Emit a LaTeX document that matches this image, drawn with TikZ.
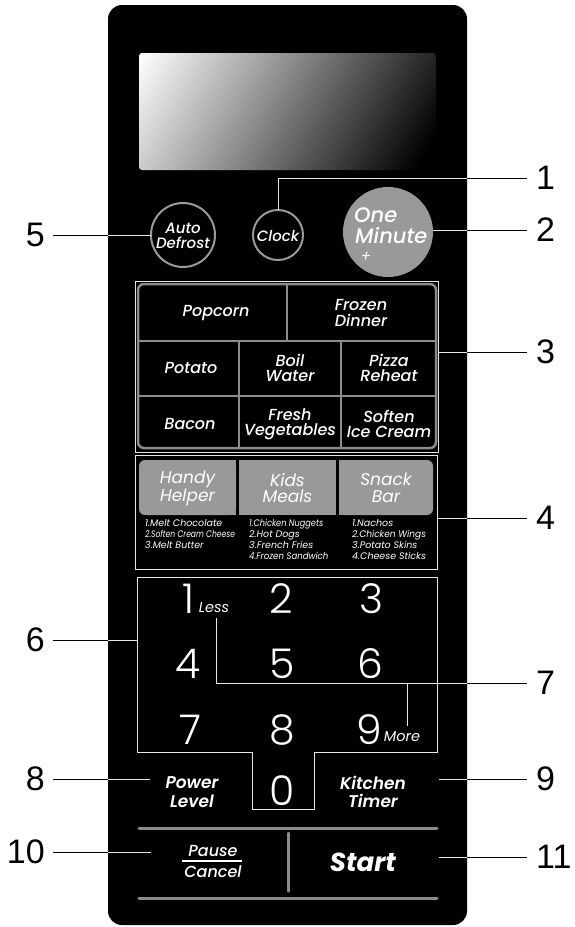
\documentclass[tikz,border=0pt]{standalone}
\usepackage{fontspec}
\setmainfont{Poppins}
\newfontfamily\medfont{Poppins Medium}
\newfontfamily\semifont{Poppins SemiBold}
\newfontfamily\digitfont{Poppins Light}
\newfontfamily\labfont{Liberation Sans}
\usetikzlibrary{calc}
\definecolor{btngray}{HTML}{999999}
\definecolor{linegray}{HTML}{8C8C8C}
\definecolor{leadwhite}{HTML}{E6E6E6}
\tikzset{
  lbl/.style={font=\labfont\fontsize{34}{34}\selectfont, text=black, inner ysep=0pt},
  lblR/.style={lbl, anchor=west, inner xsep=9pt},
  lblL/.style={lbl, anchor=east, inner xsep=8pt},
  ldr/.style={black, line width=0.8pt},
  ldrw/.style={leadwhite, line width=0.9pt},
  thinframe/.style={draw=leadwhite, line width=0.8pt},
  gridline/.style={draw=linegray, line width=2.5pt},
  barline/.style={draw=linegray, line width=3pt, line cap=round},
  celltext/.style={text=white, font=\medfont\itshape\fontsize{16}{15.5}\selectfont, align=center, inner sep=0pt},
  btntext/.style={text=white, font=\itshape\fontsize{17}{16.5}\selectfont, align=center, inner sep=0pt},
  listtext/.style={text=white, font=\itshape\fontsize{9.5}{11}\selectfont, align=left, inner sep=0pt, anchor=north west},
  digit/.style={text=white, font=\digitfont\fontsize{41}{41}\selectfont, inner sep=0pt},
  smallit/.style={text=white, font=\itshape\fontsize{14.5}{14.5}\selectfont, inner sep=0pt},
  bolditext/.style={text=white, font=\semifont\itshape\fontsize{17}{18.5}\selectfont, align=center, inner sep=0pt},
  roundbtn/.style={draw=btngray, line width=2pt, fill=black},
}
\newcommand\leadr[1]{%
  \draw[ldr] #1;
  \begin{scope}
    \clip[rounded corners=14] (108,5) rectangle (467,925);
    \draw[ldrw] #1;
  \end{scope}}
\begin{document}
\begin{tikzpicture}[x=1pt,y=-1pt]
\useasboundingbox (0,0) rectangle (575,927);
% panel
\fill[black, rounded corners=14] (108,5) rectangle (467,925);
% display: diagonal gradient built from strips
\begin{scope}
  \clip[rounded corners=3] (139,53) rectangle (436,170);
  \foreach \i in {0,...,74} {
    \pgfmathsetmacro\u{139+5*\i}
    \pgfmathsetmacro\p{min(100,max(0,(\u-139)/345*100))}
    \fill[black!\p!white] (\u,53) -- (\u+5.6,53) -- (\u+5.6-70,170) -- (\u-70,170) -- cycle;
  }
\end{scope}
% top buttons
\draw[roundbtn] (183,235) circle[radius=32];
\node[celltext, font=\medfont\itshape\fontsize{15}{15}\selectfont] (autodef) at (183,236) {Auto\\Defrost};
\draw[roundbtn] (278,235) circle[radius=25];
\node[celltext, font=\medfont\itshape\fontsize{15}{15}\selectfont] (clock) at (278,236) {Clock};
\fill[btngray] (388,232) circle[radius=45];
\node[text=white, font=\medfont\itshape\fontsize{21}{21}\selectfont, inner sep=0pt, anchor=base west] (one) at (354,222) {One};
\node[text=white, font=\medfont\itshape\fontsize{21}{21}\selectfont, inner sep=0pt, anchor=base west] (minute) at (355,243) {Minute};
\node[text=white, font=\itshape\fontsize{15}{15}\selectfont, inner sep=0pt] (plus) at (366,257) {+};
\coordinate (autoW) at (151,235);
\coordinate (clockN) at (278,210);
\coordinate (oneE) at (433,230);
% grid (3)
\draw[thinframe] (135,281) rectangle (438,452);
\draw[gridline, rounded corners=6] (138,284) rectangle (436,448);
\draw[gridline] (138,341) -- (436,341);
\draw[gridline] (138,396) -- (436,396);
\draw[gridline] (287,284) -- (287,341);
\draw[gridline] (239,341) -- (239,448);
\draw[gridline] (341,341) -- (341,448);
\node[celltext] (popcorn) at (216,313) {Popcorn};
\node[celltext] (frozen) at (361,313) {Frozen\\Dinner};
\node[celltext] (potato) at (191,368) {Potato};
\node[celltext] (boil) at (290,368) {Boil\\Water};
\node[celltext] (pizza) at (389,368) {Pizza\\Reheat};
\node[celltext] (bacon) at (190,424) {Bacon};
\node[celltext] (fresh) at (290,424) {Fresh\\Vegetables};
\node[celltext] (soften) at (389,424) {Soften\\Ice Cream};
\coordinate (g3) at (438,352);
% region 4
\draw[thinframe] (135,455) rectangle (437,569);
\fill[btngray, rounded corners=6] (139,460) rectangle (236,515);
\fill[btngray] (200,460) rectangle (236,515);
\fill[btngray] (239,460) rectangle (336,515);
\fill[btngray, rounded corners=6] (339,460) rectangle (433,515);
\fill[btngray] (339,460) rectangle (380,515);
\node[btntext] (handy) at (187.5,488) {Handy\\Helper};
\node[btntext] (kids) at (287.5,488) {Kids\\Meals};
\node[btntext] (snack) at (386,488) {Snack\\Bar};
\node[listtext] (hlist) at (145,519) {1.Melt Chocolate\\\scalebox{0.8}[1]{2.Soften Cream Cheese}\\3.Melt Butter};
\node[listtext] (klist) at (249,519) {\scalebox{0.86}[1]{1.Chicken Nuggets}\\2.Hot Dogs\\3.French Fries\\\scalebox{0.9}[1]{4.Frozen Sandwich}};
\node[listtext] (slist) at (352,519) {1.Nachos\\\scalebox{0.95}[1]{2.Chicken Wings}\\3.Potato Skins\\4.Cheese Sticks};
\coordinate (g4) at (437,518);
% number pad
\draw[thinframe] (137,577) -- (437,577) -- (437,752) -- (314,752) -- (314,809) -- (252,809) -- (252,752) -- (137,752) -- cycle;
\node[digit] (d1) at (188,599) {1};
\node[digit] (d2) at (281,599) {2};
\node[digit] (d3) at (371,599) {3};
\node[digit] (d4) at (188,664) {4};
\node[digit] (d5) at (282,664) {5};
\node[digit] (d6) at (370,664) {6};
\node[digit] (d7) at (190,730) {7};
\node[digit] (d8) at (282,730) {8};
\node[digit] (d9) at (369,730) {9};
\node[digit] (d0) at (282,791) {0};
\node[smallit] (less) at (214,608) {Less};
\node[smallit] (more) at (402,737) {More};
\coordinate (lessB) at ($(less.south)+(2,5)$);
\coordinate (moreT) at ($(more.north)+(5,-6)$);
\coordinate (padW) at (137,640);
% power / kitchen
\node[bolditext] (power) at (192,792) {Power\\Level};
\node[bolditext] (kitchen) at (373,792) {Kitchen\\Timer};
\coordinate (p8) at (150,779);
\coordinate (p9) at (439,779);
% bottom bars
\draw[barline] (139,828) -- (437,828);
\draw[barline] (139,898) -- (437,898);
\draw[barline] (288,833) -- (288,891);
\node[text=white, font=\medfont\itshape\fontsize{16}{16}\selectfont, inner sep=0pt] (pause) at (213,851) {Pause};
\node[text=white, font=\medfont\itshape\fontsize{16}{16}\selectfont, inner sep=0pt] (cancel) at (213,872) {Cancel};
\draw[white, line width=1.2pt] (182,861) -- (242,861);
\node[text=white, font=\bfseries\itshape\fontsize{26}{26}\selectfont, inner sep=0pt] (start) at (363,862) {Start};
\coordinate (p10) at (151,852);
\coordinate (p11) at (439,857);
% labels
\node[lblR] (l1) at (527,178) {1};
\node[lblR] (l2) at (527,230) {2};
\node[lblR] (l3) at (527,352) {3};
\node[lblR] (l4) at (527,518) {4};
\node[lblL] (l5) at (53,235) {5};
\node[lblL] (l6) at (53,640) {6};
\node[lblR] (l7) at (527,683) {7};
\node[lblL] (l8) at (53,779) {8};
\node[lblR] (l9) at (527,779) {9};
\node[lblL] (l10) at (53,852) {10};
\node[lblR] (l11) at (527,857) {11};
% leaders
\leadr{(clockN) |- (l1.west)}
\leadr{(oneE) -- (l2.west)}
\leadr{(g3) -- (l3.west)}
\leadr{(g4) -- (l4.west)}
\leadr{(l5.east) -- (autoW)}
\leadr{(l6.east) -- (padW)}
\leadr{(lessB) |- (l7.west)}
\leadr{(moreT) -- (moreT |- l7.west)}
\leadr{(l8.east) -- (p8)}
\leadr{(p9) -- (l9.west)}
\leadr{(l10.east) -- (p10)}
\leadr{(p11) -- (l11.west)}
\end{tikzpicture}
\end{document}
